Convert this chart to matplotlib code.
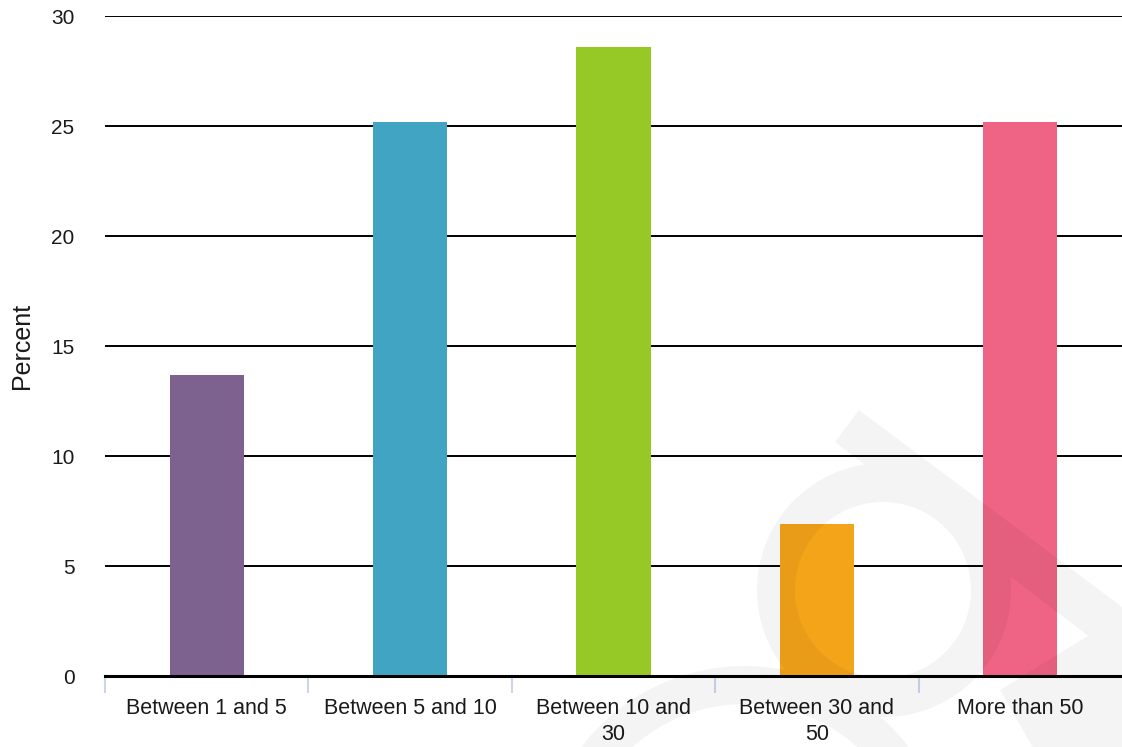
import numpy as np
import matplotlib
matplotlib.use('Agg')
import matplotlib.pyplot as plt
from matplotlib.path import Path
from matplotlib.patches import PathPatch
from matplotlib.transforms import Affine2D

categories = ["Between 1 and 5", "Between 5 and 10", "Between 10 and\n30",
              "Between 30 and\n50", "More than 50"]
percent = [13.7, 25.2, 28.6, 6.9, 25.2]
bar_colors = ["#7d6290", "#41a4c3", "#97c926", "#f4a419", "#ef6384"]
y_ticks = [0, 5, 10, 15, 20, 25, 30]

plt.rcParams['font.family'] = ['Liberation Sans', 'DejaVu Sans']

W, H = 1122, 747
fig = plt.figure(figsize=(W / 100, H / 100), dpi=100)
ax = fig.add_axes([105 / W, 71 / H, 1 - 105 / W, 660 / H])

x = np.arange(len(categories))
ax.bar(x, percent, width=0.364, color=bar_colors, zorder=3)

ax.set_xlim(-0.5, len(categories) - 0.5)
ax.set_ylim(0, 30)
ax.set_yticks(y_ticks)
ax.set_yticklabels([str(v) for v in y_ticks], fontsize=15, color='#1a1a1a')
ax.tick_params(axis='y', length=0, pad=22)
ax.grid(axis='y', color='black', linewidth=1.4, zorder=1)

ax.set_xticks(x)
ax.set_xticklabels(categories, fontsize=15.5, color='#1a1a1a', linespacing=1.3)
ax.tick_params(axis='x', which='major', length=0, pad=16)
ax.set_xticks(np.arange(len(categories)) - 0.5, minor=True)
ax.tick_params(axis='x', which='minor', length=12.5, width=1.5, color='#ccd6eb')

for s in ['top', 'right', 'left']:
    ax.spines[s].set_visible(False)
ax.spines['bottom'].set_color('black')
ax.spines['bottom'].set_linewidth(2.2)
ax.spines['bottom'].set_zorder(4)

ax.set_ylabel('Percent', fontsize=18, color='#1a1a1a')
ax.yaxis.set_label_coords(-71 / (W - 105), 0.5)

# faint logo watermark in the lower right (image pixel coords)
def ring(cx, cy, r, reverse=False):
    t = np.linspace(0, 2 * np.pi, 180)
    if reverse:
        t = t[::-1]
    return np.column_stack([cx + r * np.cos(t), cy + r * np.sin(t)])

def oriented(poly):
    poly = np.asarray(poly, float)
    xs, ys = poly[:, 0], poly[:, 1]
    area = 0.5 * np.sum(xs * np.roll(ys, -1) - np.roll(xs, -1) * ys)
    return poly if area > 0 else poly[::-1]

pieces = [
    ring(884, 590, 127), ring(883, 590, 88, reverse=True),
    ring(745, 872, 206), ring(745, 872, 168, reverse=True),
    oriented([(859, 410), (1130, 613), (1130, 668), (835, 442)]),
    oriented([(1000, 690), (1130, 610), (1130, 760), (1040, 760)]),
]
verts, codes = [], []
for p in pieces:
    verts.extend(p.tolist())
    codes.extend([Path.MOVETO] + [Path.LINETO] * (len(p) - 1))
to_disp = Affine2D().scale(1 / 100, -1 / 100).translate(0, H / 100) + fig.dpi_scale_trans
fig.add_artist(PathPatch(Path(verts, codes), facecolor='black', edgecolor='none',
                         alpha=0.045, transform=to_disp, zorder=5))

fig.savefig('out.png', dpi=100)
